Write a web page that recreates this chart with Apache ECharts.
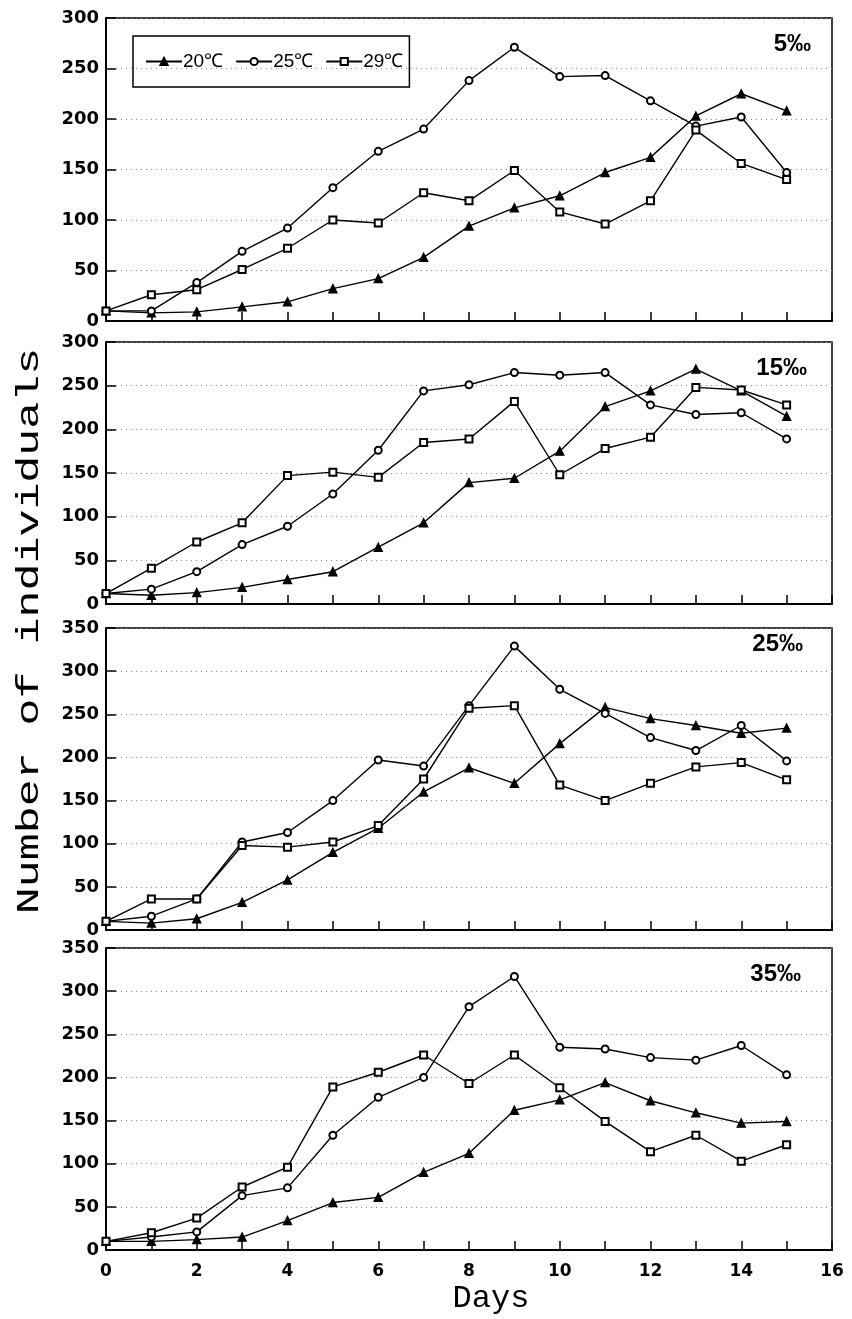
<!DOCTYPE html>
<html>
<head>
<meta charset="utf-8">
<script src="https://cdn.jsdelivr.net/npm/echarts@6/dist/echarts.min.js"></script>
<style>
html,body{margin:0;padding:0;background:#fff;}
#chart{width:852px;height:1319px;}
</style>
</head>
<body>
<div id="chart"></div>
<script>
// ---- data ----
const days = [0,1,2,3,4,5,6,7,8,9,10,11,12,13,14,15];
const seriesNames = ['20℃','25℃','29℃'];
const panelLabels = ['5‰','15‰','25‰','35‰'];
const yMaxes = [300,300,350,350];
const xTickLabels = [0,2,4,6,8,10,12,14,16];

// 5‰
const s5_t20 = [10,8,9,14,19,32,42,63,94,112,124,147,162,203,225,208];
const s5_t25 = [10,10,38,69,92,132,168,190,238,271,242,243,218,193,202,147];
const s5_t29 = [10,26,31,51,72,100,97,127,119,149,108,96,119,189,156,140];
// 15‰
const s15_t20 = [12,10,13,19,28,37,65,93,139,144,175,226,244,269,244,215];
const s15_t25 = [12,17,37,68,89,126,176,244,251,265,262,265,228,217,219,189];
const s15_t29 = [12,41,71,93,147,151,145,185,189,232,148,178,191,248,245,228];
// 25‰
const s25_t20 = [10,8,13,32,58,90,118,160,188,170,216,258,245,237,228,234];
const s25_t25 = [10,16,36,102,113,150,197,190,260,329,279,251,223,208,237,196];
const s25_t29 = [10,36,36,98,96,102,121,175,257,260,168,150,170,189,194,174];
// 35‰
const s35_t20 = [10,10,12,15,34,55,61,90,112,162,174,194,173,159,147,149];
const s35_t25 = [10,15,21,63,72,133,177,200,282,317,235,233,223,220,237,203];
const s35_t29 = [10,20,37,73,96,189,206,226,193,226,188,149,114,133,103,122];

const panelData = [
  [s5_t20, s5_t25, s5_t29],
  [s15_t20, s15_t25, s15_t29],
  [s25_t20, s25_t25, s25_t29],
  [s35_t20, s35_t25, s35_t29]
];

// ---- layout ----
const grids = [
  {top:18, height:303},
  {top:342, height:262},
  {top:628, height:302},
  {top:948, height:302}
];
const symbols = ['triangle','emptyCircle','emptyRect'];
const symbolSizes = [8,7,7];
const labelFont = '"DejaVu Sans", sans-serif';

const option = {
  backgroundColor:'#fff',
  animation:false,
  grid: grids.map(g => ({left:106, width:726, top:g.top, height:g.height,
    show:true, borderColor:'#000', borderWidth:1.5, backgroundColor:'transparent'})),
  xAxis: grids.map((g,i) => ({
    type:'value', gridIndex:i, min:0, max:16, interval:1,
    axisLine:{show:true, onZero:false, lineStyle:{color:'#000', width:2}},
    axisTick:{show:true, inside:true, length:9, lineStyle:{color:'#000', width:1.5}},
    splitLine:{show:false},
    axisLabel:{show: i===3, color:'#000', fontFamily:labelFont, fontWeight:'bold', fontSize:17, margin:13,
      formatter: v => (xTickLabels.indexOf(v) >= 0 ? String(v) : '')}
  })),
  yAxis: grids.map((g,i) => ({
    type:'value', gridIndex:i, min:0, max:yMaxes[i], interval:50,
    axisLine:{show:true, onZero:false, lineStyle:{color:'#000', width:2}},
    axisTick:{show:true, inside:true, length:10, lineStyle:{color:'#000', width:1.5}},
    splitLine:{show:true, lineStyle:{color:'#888', type:[1,4], width:1}},
    axisLabel:{color:'#000', fontFamily:labelFont, fontWeight:'bold', fontSize:18, margin:7}
  })),
  legend:{
    data: seriesNames,
    left:133, top:36,
    orient:'horizontal',
    itemWidth:36, itemHeight:9, itemGap:12,
    borderColor:'#000', borderWidth:1.5,
    padding:[16,6,16,12],
    textStyle:{color:'#000', fontSize:19, fontFamily:'"Liberation Sans Narrow","Liberation Sans",sans-serif', padding:[0,0,0,-4]},
    inactiveColor:'#000'
  },
  title: panelLabels.map((t,i) => ({
    text:t, right: [36,40,44,46][i], top: grids[i].top + [9,9,-1,9][i],
    textStyle:{color:'#000', fontSize:24, fontWeight:'bold', fontFamily:'"Liberation Sans Narrow","Liberation Sans",sans-serif'}
  })),
  graphic:[
    {type:'text', x:30, y:631, rotation:Math.PI/2, scaleX:1.45,
     style:{text:'Number of individuals', font:'31px "Liberation Mono", monospace', fill:'#000', align:'center', verticalAlign:'middle'}},
    {type:'text', x:491, y:1299,
     style:{text:'Days', font:'32px "Liberation Mono", monospace', fill:'#000', align:'center', verticalAlign:'middle'}}
  ],
  series: []
};

panelData.forEach((arrs, pi) => {
  arrs.forEach((vals, si) => {
    option.series.push({
      name: seriesNames[si], type:'line', xAxisIndex:pi, yAxisIndex:pi,
      data: days.map((d,k) => [d, vals[k]]),
      symbol: symbols[si], symbolSize: symbolSizes[si],
      showAllSymbol:true,
      lineStyle:{color:'#000', width:1.4},
      itemStyle:{color:'#000', borderColor:'#000', borderWidth:1.4},
      emphasis:{disabled:true}
    });
  });
});

const chart = echarts.init(document.getElementById('chart'), null, {renderer:'canvas'});
chart.setOption(option);
</script>
</body>
</html>
